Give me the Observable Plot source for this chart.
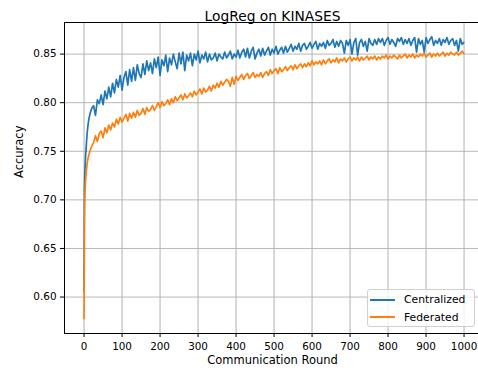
<!DOCTYPE html>
<html><head><meta charset="utf-8">
<script src="https://cdn.jsdelivr.net/npm/d3@7"></script>
<script src="https://cdn.jsdelivr.net/npm/@observablehq/plot@0.6"></script>
<style>
body{margin:0;background:#fff;font-family:"DejaVu Sans",sans-serif;}
#wrap{position:relative;width:478px;height:375px;overflow:hidden;}
#legend{position:absolute;left:367px;top:289px;width:108px;height:38px;border:1px solid #d0d0d0;border-radius:3px;background:rgba(255,255,255,0.8);box-sizing:border-box;font-size:10.8px;color:#000;font-family:"DejaVu Sans",sans-serif;}
.row{position:absolute;left:0;height:16px;display:flex;align-items:center;white-space:nowrap;}
.sw{width:25px;height:0;border-top:2px solid;margin-left:2px;margin-right:9px;}
</style>
</head><body><div id="wrap"></div>
<script>
const title = "LogReg on KINASES";
const xLabel = "Communication Round";
const yLabel = "Accuracy";
const seriesNames = ["Centralized", "Federated"];
const seriesColors = ["#1f77b4", "#ff7f0e"];
const xTicks = [0,100,200,300,400,500,600,700,800,900,1000];
const yTicks = [0.60,0.65,0.70,0.75,0.80,0.85];

const rounds = [0,1,2,3,4,6,8,10,13,16,20,25,
30,35,40,45,50,55,60,65,70,75,
80,85,90,95,100,105,110,115,120,125,
130,135,140,145,150,155,160,165,170,175,
180,185,190,195,200,205,210,215,220,225,
230,235,240,245,250,255,260,265,270,275,
280,285,290,295,300,305,310,315,320,325,
330,335,340,345,350,355,360,365,370,375,
380,385,390,395,400,405,410,415,420,425,
430,435,440,445,450,455,460,465,470,475,
480,485,490,495,500,505,510,515,520,525,
530,535,540,545,550,555,560,565,570,575,
580,585,590,595,600,605,610,615,620,625,
630,635,640,645,650,655,660,665,670,675,
680,685,690,695,700,705,710,715,720,725,
730,735,740,745,750,755,760,765,770,775,
780,785,790,795,800,805,810,815,820,825,
830,835,840,845,850,855,860,865,870,875,
880,885,890,895,900,905,910,915,920,925,
930,935,940,945,950,955,960,965,970,975,
980,985,990,995,999];

const centralized = [0.606,0.712,0.728,0.737,0.745,0.757,0.768,0.776,0.784,0.789,0.794,0.797,
0.787,0.803,0.799,0.808,0.798,0.812,0.804,0.816,0.806,0.820,
0.810,0.824,0.816,0.828,0.813,0.826,0.832,0.818,0.834,0.822,
0.836,0.823,0.839,0.830,0.826,0.840,0.829,0.843,0.833,0.841,
0.830,0.845,0.836,0.847,0.828,0.844,0.838,0.849,0.832,0.846,
0.839,0.850,0.842,0.835,0.851,0.840,0.852,0.833,0.849,0.843,
0.851,0.838,0.850,0.844,0.853,0.841,0.849,0.845,0.852,0.842,
0.850,0.844,0.846,0.851,0.843,0.850,0.847,0.845,0.852,0.846,
0.849,0.853,0.845,0.850,0.847,0.854,0.846,0.852,0.855,0.847,
0.856,0.846,0.853,0.857,0.845,0.851,0.855,0.848,0.856,0.849,
0.853,0.857,0.849,0.855,0.851,0.858,0.850,0.854,0.857,0.851,
0.858,0.852,0.856,0.860,0.853,0.858,0.855,0.861,0.853,0.859,
0.861,0.855,0.858,0.862,0.856,0.860,0.863,0.855,0.861,0.858,
0.862,0.856,0.864,0.859,0.861,0.865,0.857,0.863,0.858,0.864,
0.861,0.851,0.864,0.859,0.865,0.850,0.862,0.866,0.849,0.862,
0.865,0.858,0.863,0.853,0.866,0.861,0.859,0.865,0.860,0.866,
0.862,0.866,0.859,0.864,0.867,0.860,0.865,0.862,0.858,0.866,
0.863,0.867,0.860,0.865,0.861,0.866,0.859,0.864,0.867,0.852,
0.866,0.860,0.864,0.852,0.867,0.861,0.865,0.868,0.859,0.864,
0.861,0.866,0.859,0.865,0.862,0.867,0.860,0.864,0.866,0.859,
0.864,0.853,0.866,0.860,0.862];

const federated = [0.578,0.690,0.703,0.712,0.720,0.730,0.737,0.742,0.747,0.751,0.755,0.759,
0.766,0.760,0.768,0.771,0.764,0.774,0.769,0.777,0.772,0.779,
0.775,0.783,0.778,0.785,0.780,0.784,0.788,0.781,0.789,0.784,
0.790,0.785,0.792,0.787,0.789,0.794,0.788,0.795,0.791,0.793,
0.797,0.792,0.796,0.800,0.795,0.801,0.797,0.799,0.803,0.798,
0.804,0.800,0.806,0.802,0.805,0.808,0.803,0.809,0.805,0.807,
0.810,0.806,0.812,0.808,0.811,0.814,0.809,0.815,0.811,0.813,
0.817,0.812,0.818,0.815,0.820,0.816,0.822,0.818,0.821,0.824,
0.822,0.817,0.826,0.819,0.827,0.823,0.826,0.829,0.824,0.828,
0.830,0.825,0.828,0.831,0.826,0.829,0.827,0.831,0.826,0.830,
0.832,0.828,0.834,0.830,0.833,0.835,0.830,0.836,0.832,0.834,
0.837,0.833,0.836,0.838,0.834,0.839,0.835,0.838,0.840,0.836,
0.840,0.837,0.841,0.838,0.843,0.839,0.842,0.840,0.843,0.839,
0.844,0.840,0.843,0.845,0.841,0.844,0.842,0.846,0.841,0.845,
0.843,0.846,0.842,0.845,0.847,0.843,0.846,0.844,0.847,0.843,
0.847,0.844,0.846,0.848,0.844,0.847,0.845,0.848,0.844,0.847,
0.845,0.848,0.846,0.849,0.845,0.848,0.846,0.849,0.847,0.845,
0.849,0.846,0.848,0.850,0.846,0.849,0.847,0.850,0.846,0.849,
0.847,0.850,0.848,0.851,0.847,0.849,0.851,0.847,0.850,0.848,
0.851,0.848,0.850,0.852,0.848,0.851,0.849,0.852,0.850,0.849,
0.852,0.849,0.851,0.853,0.851];

const seriesValues = [centralized, federated];
const data = [];
seriesNames.forEach((s, k) => {
  rounds.forEach((r, i) => data.push({round: r, acc: seriesValues[k][i], series: s}));
});

const xDomain = [-51.5, 1038];
const yDomain = [0.5625, 0.8825];

const chart = Plot.plot({
  width: 478, height: 375,
  marginLeft: 64, marginRight: 0, marginTop: 22, marginBottom: 42,
  style: {fontFamily: "DejaVu Sans", fontSize: "10.4px", color: "#000", background: "#fff", overflow: "visible"},
  x: {domain: xDomain},
  y: {domain: yDomain},
  color: {domain: seriesNames, range: seriesColors},
  marks: [
    Plot.gridX({ticks: xTicks, stroke: "#cbcbcb", strokeOpacity: 1, strokeWidth: 1.5}),
    Plot.gridY({ticks: yTicks, stroke: "#b0b0b0", strokeOpacity: 1, strokeWidth: 0.9}),
    Plot.line(data, {x: "round", y: "acc", stroke: "series", z: "series", strokeWidth: 1.7}),
    Plot.ruleX([xDomain[0]], {stroke: "#000", strokeWidth: 1}),
    Plot.ruleY(yDomain, {stroke: "#000", strokeWidth: 1}),
    Plot.axisX({ticks: xTicks, tickSize: 4, tickPadding: 5, tickFormat: d => String(d), label: null, stroke: "#000"}),
    Plot.axisY({ticks: yTicks, tickSize: 4, tickPadding: 4, tickFormat: d => d.toFixed(2), label: null, stroke: "#000"}),
    Plot.text([title], {frameAnchor: "top", text: d => d, dy: -11, dx: 1, fontSize: 13.8, fill: "#000"}),
    Plot.text([xLabel], {frameAnchor: "bottom", text: d => d, dy: 30, dx: 1, fontSize: 11.5, fill: "#000"}),
    Plot.text([yLabel], {frameAnchor: "left", text: d => d, dx: -45, rotate: -90, fontSize: 11.5, fill: "#000"})
  ]
});

const wrap = document.getElementById("wrap");
wrap.appendChild(chart);

const legend = document.createElement("div");
legend.id = "legend";
seriesNames.forEach((s, k) => {
  const row = document.createElement("div");
  row.className = "row";
  row.style.top = (k === 0 ? 1.5 : 19) + "px";
  const sw = document.createElement("span");
  sw.className = "sw";
  sw.style.borderTopColor = seriesColors[k];
  const tx = document.createElement("span");
  tx.textContent = s;
  row.appendChild(sw);
  row.appendChild(tx);
  legend.appendChild(row);
});
wrap.appendChild(legend);
</script>
</body></html>
